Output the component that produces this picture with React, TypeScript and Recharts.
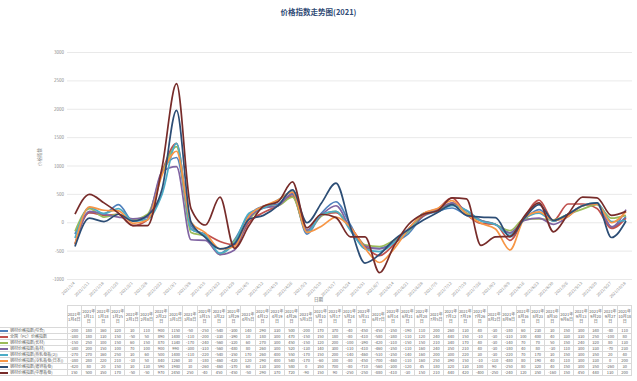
import { CartesianGrid, Line, LineChart, XAxis, YAxis } from "recharts";

// 日期（2021年，周度）
const dates = [
  "1/4", "1/11", "1/18", "1/25", "2/1", "2/8", "2/22", "3/1", "3/8", "3/15",
  "3/22", "3/29", "4/5", "4/12", "4/19", "4/26", "5/3", "5/10", "5/17", "5/24",
  "5/31", "6/7", "6/14", "6/21", "6/28", "7/5", "7/12", "7/19", "7/26", "8/2",
  "8/9", "8/16", "8/23", "8/30", "9/6", "9/13", "9/20", "9/27", "10/18",
];

const seriesNames = [
  "钢材价格指数(综合)",
  "全国（PC）价格指数",
  "钢材价格指数(长材)",
  "钢材价格指数(板材)",
  "钢材价格指数(热轧卷板(2))",
  "钢材价格指数(冷轧板卷(日本))",
  "钢材价格指数(镀锌板卷)",
  "钢材价格指数(中厚板卷)",
];

const colors = ["#4F81BD", "#C0504D", "#9BBB59", "#8064A2", "#4BACC6", "#F79646", "#2C4D75", "#772C2A"];

const s1 = [-200, 180, 160, 320, 30, 110, 900, 1150, -50, -250, -540, -300, 140, 290, 330, 500, -200, 170, 370, -40, -450, -450, -350, -190, 110, 200, 260, 130, 40, -30, -180, 60, 230, 30, 150, 300, 340, -80, 110];
const s2 = [-380, 180, 130, 150, -50, 50, 890, 1400, -110, -200, -330, -390, 10, 180, 300, 470, -150, 150, 180, -80, -410, -580, -380, -110, 120, 240, 440, 150, -10, -30, -310, 100, 400, 40, 330, 330, 250, -100, 80];
const s3 = [-150, 250, 100, 150, 60, 150, 870, 1340, -170, -240, -560, -320, 60, 270, 300, 450, -150, 120, 200, -100, -390, -420, -310, -150, 150, 210, 340, 170, 40, -30, -140, 70, 70, 50, 150, 240, 320, 80, 130];
const s4 = [-380, 200, 150, 100, 70, 100, 900, 990, -300, -310, -560, -480, 80, 260, 300, 520, -130, 140, 300, -110, -410, -460, -350, -110, 160, 240, 350, 210, 40, -30, -180, 40, 80, -30, 110, 300, 330, -70, 230];
const s5 = [-270, 270, 160, 250, 30, 60, 500, 1400, -110, -220, -540, -350, 170, 260, 400, 550, -170, 150, 200, -140, -460, -510, -350, -140, 160, 200, 300, 220, 30, -30, -220, 70, 170, 30, 150, 300, 350, 20, 40];
const s6 = [-380, 280, 220, 210, -10, 50, 840, 1260, 10, -180, -460, -420, 120, 290, 400, 540, -170, -60, 100, -80, -450, -700, -460, -110, 160, 250, 390, 150, -10, -110, -480, 80, 190, 40, 110, 300, 330, 0, 200];
const s7 = [-420, 80, 20, 150, 30, 130, 590, 1980, 10, -260, -460, -370, 60, 130, 300, 580, 0, 350, 700, -80, -710, -560, -300, -120, 45, 180, 320, 130, 100, 90, -250, 80, 320, 40, 150, 300, 350, -260, 30];
const s8 = [150, 500, 350, 170, -50, -50, 970, 2450, 250, -40, 450, -450, -50, 290, 370, 720, -90, 150, 90, -250, -250, -880, -410, -30, 150, 210, 440, 420, -400, -250, -240, 120, 350, -160, 150, 450, 440, 130, 200];

const allSeries = [s1, s2, s3, s4, s5, s6, s7, s8];
const yTicks = [-1000, -500, 0, 500, 1000, 1500, 2000, 2500, 3000];

const data = dates.map((d, i) => {
  const row: Record<string, any> = { date: d };
  allSeries.forEach((s, k) => (row["s" + k] = s[i]));
  return row;
});

const font = "'Noto Sans CJK SC', 'Noto Sans', sans-serif";

const DateTick = (props: any) => {
  const { x, y, payload } = props;
  return (
    <text x={x} y={y} transform={`rotate(-45 ${x} ${y})`} textAnchor="end" fontSize={4} fill="#8a8a8a" fontFamily={font}>
      {"2021/" + payload.value}
    </text>
  );
};

export default function App() {
  const colW = 565 / dates.length;
  return (
    <div style={{ position: "absolute", left: 0, top: 0, width: 637, height: 381, background: "#fff", fontFamily: font }}>
      <div style={{ position: "absolute", top: 6, width: 637, textAlign: "center", fontSize: 7.5, fontWeight: 700, color: "#2F4A75" }}>
        价格指数走势图(2021)
      </div>
      <LineChart width={637} height={300} data={data} margin={{ top: 52.5, right: 5, bottom: 2.5, left: 37 }}>
        <CartesianGrid vertical={false} stroke="#e3e3e3" strokeWidth={0.8} />
        <XAxis
          dataKey="date"
          interval={0}
          height={18}
          padding={{ left: 8, right: 6 }}
          axisLine={false}
          tickLine={false}
          tickSize={0}
          tickMargin={4}
          tick={<DateTick />}
        />
        <YAxis
          domain={[-1000, 3000]}
          ticks={yTicks}
          width={30}
          axisLine={false}
          tickLine={false}
          tickSize={0}
          tickMargin={3}
          tick={{ fontSize: 4.5, fill: "#8a8a8a", fontFamily: font }}
          label={{ value: "价格指数", angle: -90, position: "insideLeft", offset: 2, fontSize: 4.5, fill: "#8a8a8a" }}
        />
        {allSeries.map((_, k) => (
          <Line
            key={k}
            type="monotone"
            dataKey={"s" + k}
            stroke={colors[k]}
            strokeWidth={1.7}
            dot={false}
            isAnimationActive={false}
          />
        ))}
      </LineChart>
      <div style={{ position: "absolute", top: 296, left: 0, width: 637, textAlign: "center", fontSize: 4.5, color: "#666" }}>日期</div>
      <table
        style={{
          position: "absolute",
          top: 305,
          left: 0,
          width: 67 + 565,
          borderCollapse: "collapse",
          tableLayout: "fixed",
          fontSize: 4,
          color: "#595959",
          lineHeight: "5px",
        }}
      >
        <colgroup>
          <col style={{ width: 67 }} />
          {dates.map((d) => (
            <col key={d} style={{ width: colW }} />
          ))}
        </colgroup>
        <tbody>
          <tr style={{ height: 22 }}>
            <td />
            {dates.map((d) => {
              const [m, day] = d.split("/");
              return (
                <td key={d} style={{ border: "0.6px solid #d9d9d9", textAlign: "center", padding: 0, wordBreak: "break-all" }}>
                  2021年{m}月{day}日
                </td>
              );
            })}
          </tr>
          {allSeries.map((s, k) => (
            <tr key={k} style={{ height: 6 }}>
              <td style={{ border: "0.6px solid #d9d9d9", borderLeft: "none", padding: 0, whiteSpace: "nowrap", overflow: "hidden" }}>
                <span style={{ display: "inline-block", width: 8, height: 1.5, background: colors[k], verticalAlign: "middle", marginRight: 2 }} />
                {seriesNames[k]}
              </td>
              {s.map((v, i) => (
                <td key={i} style={{ border: "0.6px solid #d9d9d9", textAlign: "center", padding: 0 }}>
                  {v}
                </td>
              ))}
            </tr>
          ))}
        </tbody>
      </table>
    </div>
  );
}
